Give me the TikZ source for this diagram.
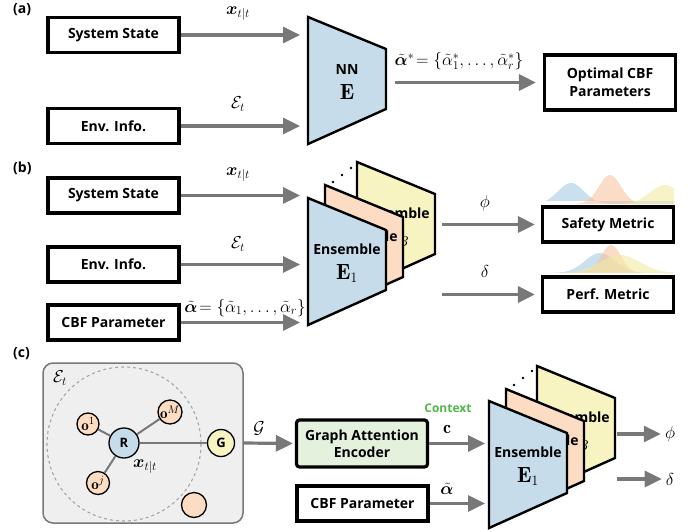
\documentclass[tikz,border=0pt]{standalone}
\usepackage{amsmath,amssymb,bm}
\usepackage{fontspec}
\setsansfont{Open Sans}
\usepackage{xcolor}
\usetikzlibrary{arrows.meta,positioning,calc}

\definecolor{netblue}{HTML}{C6DCEA}
\definecolor{netorange}{HTML}{FCDCC2}
\definecolor{netyellow}{HTML}{F7F4C2}
\definecolor{encgreen}{HTML}{E4F1DC}
\definecolor{envgray}{HTML}{EFEFEF}
\definecolor{flowgray}{HTML}{787878}
\definecolor{ctxgreen}{HTML}{4DB848}
\definecolor{distblue}{HTML}{A9CBE4}
\definecolor{distorange}{HTML}{F8C4A0}
\definecolor{distyellow}{HTML}{F3EAA4}

\newcommand{\enslayer}[6]{%
 \draw[layer,fill=#4] (#2,#3) -- ++(78,32) -- ++(0,60) -- ++(-78,35) -- cycle;
 \node[align=center,inner sep=0pt] (#1) at ({#2+39},{#3+65}) {#5\\[7pt]{\fontsize{22}{22}\selectfont$#6$}};}
\newcommand{\ensdots}[2]{%
 \foreach \k in {0,1,2} \fill ({#1+25+9*\k},{#2-16-7*\k}) circle (1.4);}
\newcommand{\bump}[6]{%
 \fill[#1,opacity=0.6] plot[domain=#2,samples=70]
  (\x,{#3-#4*exp(-0.5*((\x-#5)/#6)*((\x-#5)/#6))}) |- cycle;}

\begin{document}
\begin{tikzpicture}[
 x=1pt,y=-1pt,font=\sffamily\bfseries\fontsize{14}{18}\selectfont,
 box/.style={draw=black,line width=3.2pt,fill=white,align=center,
             minimum width=131pt,minimum height=35pt,inner sep=2pt},
 flow/.style={-{Triangle[length=17pt,width=16pt]},line width=3.2pt,draw=flowgray,fill=flowgray},
 lab/.style={font=\fontsize{18}{18}\selectfont,inner sep=0pt},
 tag/.style={anchor=west,inner sep=0pt},
 layer/.style={draw=black,line width=2.4pt,line join=miter},
 agent/.style={circle,draw=black,line width=1.3pt,inner sep=0pt,font=\sffamily\bfseries\fontsize{13}{13}\selectfont},
 edge/.style={draw=flowgray,line width=2pt}]
\useasboundingbox (0,0) rectangle (699,531);

\node[tag] (taga) at (13,10) {(a)};
\node[box] (sysa) at (113.5,35) {System State};
\node[box] (enva) at (113.5,126) {Env. Info.};
\coordinate (aend) at (300,0);
\draw[flow] (sysa.east) -- (sysa.east -| aend);
\draw[flow] (enva.east) -- (enva.east -| aend);
\node[lab] (xa) at (238,14) {$\boldsymbol{x}_{t|t}$};
\node[lab] (ea) at (238,104) {$\mathcal{E}_t$};
\enslayer{nn}{308}{17}{netblue}{NN}{\mathbf{E}}
\node[box,minimum height=55pt] (opt) at (610,82.5) {Optimal CBF\\Parameters};
\coordinate (aout) at (395,82.5);
\draw[flow,shorten >=7pt] (aout) -- (opt.west);
\node[lab,font=\fontsize{17}{17}\selectfont] (alphastar) at (459,61) {$\tilde{\boldsymbol{\alpha}}^*\!=\{\tilde{\alpha}_1^*,\dots,\tilde{\alpha}_r^*\}$};

\node[tag] (tagb) at (13,168) {(b)};
\node[box] (sysb) at (113.5,195.5) {System State};
\node[box] (envb) at (113.5,264.5) {Env. Info.};
\node[box] (cbfb) at (113.5,322.5) {CBF Parameter};
\draw[flow] (sysb.east) -- (sysb.east -| aend);
\draw[flow] (envb.east) -- (envb.east -| aend);
\draw[flow] (cbfb.east) -- (cbfb.east -| aend);
\node[lab] (xb) at (238,175) {$\boldsymbol{x}_{t|t}$};
\node[lab] (eb) at (238,244) {$\mathcal{E}_t$};
\node[lab,font=\fontsize{17}{17}\selectfont] (alphab) at (245,308) {$\tilde{\boldsymbol{\alpha}}\!=\{\tilde{\alpha}_1,\dots,\tilde{\alpha}_r\}$};
\ensdots{308}{198}
\enslayer{ensBb}{357}{162}{netyellow}{Ensemble}{\mathbf{E}_B}
\enslayer{ens2b}{325}{185}{netorange}{Ensemble}{\mathbf{E}_2}
\enslayer{ens1b}{308}{198}{netblue}{Ensemble}{\mathbf{E}_1}
\bump{distblue}{545:674}{204}{21}{571}{13}
\bump{distorange}{545:674}{204}{29}{610}{11}
\bump{distyellow}{545:674}{204}{19}{665}{15}
\bump{distblue}{545:674}{273}{20}{600}{15}
\bump{distorange}{545:674}{273}{28}{611}{10}
\bump{distyellow}{545:674}{273}{18}{620}{20}
\node[box] (safety) at (608,224.5) {Safety Metric};
\node[box] (perf) at (608,294.5) {Perf. Metric};
\coordinate (bout) at (442,0);
\draw[flow,shorten >=6pt] (safety.west -| bout) -- (safety.west);
\draw[flow,shorten >=6pt] (perf.west -| bout) -- (perf.west);
\node[lab] (phib) at (485,203) {$\phi$};
\node[lab] (deltab) at (485,271) {$\delta$};

\node[tag] (tagc) at (13,354) {(c)};
\node[draw=flowgray,line width=1.5pt,fill=envgray,rounded corners=10pt,
      minimum width=200pt,minimum height=160pt] (envc) at (143,443) {};
\node[lab] (ec) at (60,378) {$\mathcal{E}_t$};
\draw[draw=black!35,dashed,line width=1.1pt] (124,444) circle (77);
\node[agent,fill=netblue,minimum size=30pt] (robot) at (124,443) {R};
\node[agent,fill=netyellow,minimum size=27pt] (goal) at (221,443) {G};
\node[agent,fill=netorange,minimum size=22pt,font=\fontsize{15}{15}\selectfont] (obs1) at (88,424) {$\mathbf{o}^1$};
\node[agent,fill=netorange,minimum size=24pt,font=\fontsize{15}{15}\selectfont] (obsM) at (170,412) {$\mathbf{o}^M$};
\node[agent,fill=netorange,minimum size=23pt,font=\fontsize{15}{15}\selectfont] (obsj) at (98,483) {$\mathbf{o}^j$};
\node[agent,fill=netorange,minimum size=25pt] (obsx) at (194,505) {};
\draw[edge] (robot) -- (obs1);
\draw[edge] (robot) -- (obsM);
\draw[edge] (robot) -- (obsj);
\draw[edge] (robot) -- (goal);
\node[lab] (xc) at (145,467) {$\boldsymbol{x}_{t|t}$};
\node[box,fill=encgreen,rounded corners=3pt,minimum height=47pt,font=\sffamily\bfseries\fontsize{14}{17}\selectfont]
 (gae) at (362,443.5) {Graph Attention\\Encoder};
\node[box] (cbfc) at (362.5,503.5) {CBF Parameter};
\draw[flow,shorten >=2pt] (envc.east) -- (gae.west);
\node[lab] (gc) at (259,428) {$\mathcal{G}$};
\coordinate (cend) at (485,0);
\draw[flow] (gae.east) -- (gae.east -| cend);
\draw[flow] (cbfc.east) -- (cbfc.east -| cend);
\node[font=\sffamily\bfseries\fontsize{12}{12}\selectfont,text=ctxgreen,inner sep=0pt] (ctx) at (448,408) {Context};
\node[lab] (cc) at (447,429) {$\mathbf{c}$};
\node[lab] (alphac) at (447,489) {$\tilde{\boldsymbol{\alpha}}$};
\ensdots{489}{401}
\enslayer{ensBc}{537}{366}{netyellow}{Ensemble}{\mathbf{E}_B}
\enslayer{ens2c}{506}{389}{netorange}{Ensemble}{\mathbf{E}_2}
\enslayer{ens1c}{489}{401}{netblue}{Ensemble}{\mathbf{E}_1}
\node[lab] (phic) at (670,434) {$\phi$};
\node[lab] (deltac) at (670,479) {$\delta$};
\coordinate (cout) at (617,0);
\draw[flow,shorten >=4pt] (phic.west -| cout) -- (phic.west);
\draw[flow,shorten >=4pt] (deltac.west -| cout) -- (deltac.west);
\end{tikzpicture}
\end{document}
